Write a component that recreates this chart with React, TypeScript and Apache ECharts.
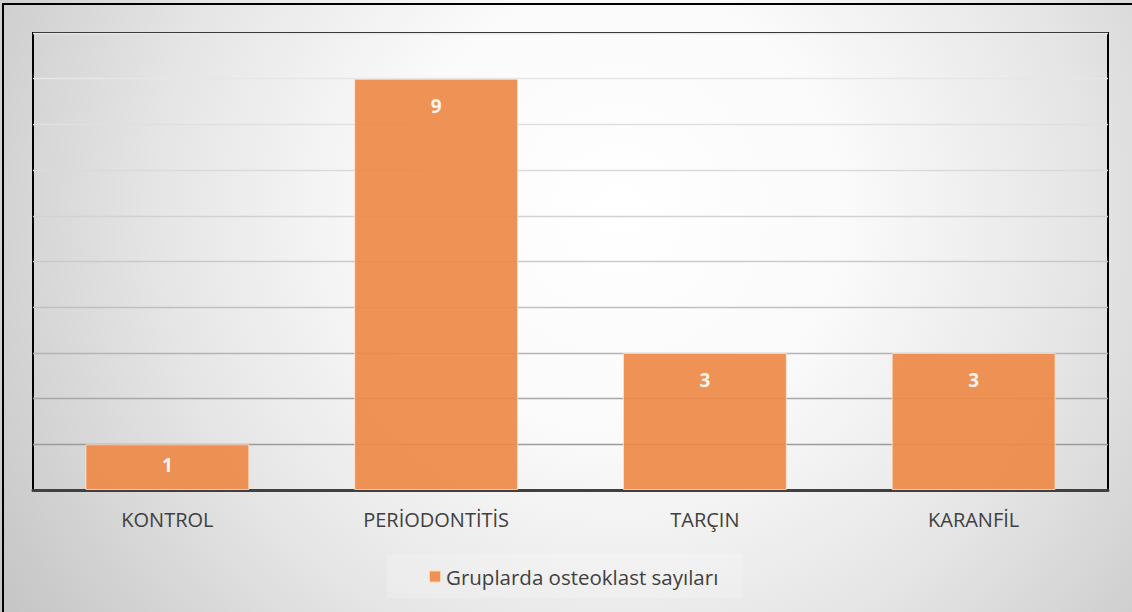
import React, { useEffect, useRef } from "react";
import * as echarts from "echarts";

const categories = ["KONTROL", "PERİODONTİTİS", "TARÇIN", "KARANFİL"];
const values = [1, 9, 3, 3];
const seriesName = "Gruplarda osteoklast sayıları";
const yMin = 0;
const yMax = 10;
const yInterval = 1;
// split line colours from value 0 (bottom) to value 10 (top)
const gridColors = ["#909090", "#9c9c9c", "#a8a8a8", "#b4b4b4", "#c0c0c0", "#cacaca", "#d2d2d2", "#dadada", "#e0e0e0", "#e6e6e6", "#e8e8e8"];

export default function App() {
  const ref = useRef<HTMLDivElement>(null);
  useEffect(() => {
    if (!ref.current) return;
    const chart = echarts.init(ref.current, undefined, { renderer: "svg" });
    const font = "'Open Sans', 'Noto Sans', sans-serif";
    chart.setOption({
      animation: false,
      backgroundColor: {
        type: "radial",
        x: 620,
        y: 210,
        r: 760,
        global: true,
        colorStops: [
          { offset: 0, color: "#ffffff" },
          { offset: 0.3, color: "#fafafa" },
          { offset: 0.6, color: "#e6e6e6" },
          { offset: 1, color: "#c2c2c2" },
        ],
      },
      graphic: [
        {
          type: "rect",
          shape: { x: 3, y: 4, width: 1160, height: 640 },
          style: { fill: "none", stroke: "#000000", lineWidth: 2 },
          silent: true,
          z: 100,
        },
      ],
      grid: {
        left: 33,
        right: 24,
        top: 33,
        bottom: 122,
        show: true,
        borderColor: "#000000",
        borderWidth: 2,
        backgroundColor: "transparent",
      },
      legend: {
        show: true,
        bottom: 14,
        left: 387,
        icon: "rect",
        itemWidth: 12,
        itemHeight: 12,
        itemGap: 10,
        padding: [12, 24, 11, 41],
        backgroundColor: "rgba(255,255,255,0.18)",
        textStyle: { fontFamily: font, fontSize: 20.5, color: "#404040" },
        data: [seriesName],
      },
      xAxis: {
        type: "category",
        data: categories,
        axisLine: { show: true, lineStyle: { color: "#404040", width: 3 } },
        axisTick: { show: false },
        axisLabel: { fontFamily: font, fontSize: 20, color: "#404040", margin: 19 },
      },
      yAxis: {
        type: "value",
        min: yMin,
        max: yMax,
        interval: yInterval,
        axisLabel: { show: false },
        axisLine: { show: false },
        axisTick: { show: false },
        splitLine: { show: true, lineStyle: { color: gridColors, width: 1.3 } },
      },
      series: [
        {
          name: seriesName,
          type: "bar",
          barWidth: "61%",
          data: values.map((v) =>
            v < 2 ? { value: v, label: { distance: 11 } } : { value: v }
          ),
          itemStyle: {
            color: "#ED8B48",
            opacity: 0.93,
            borderColor: "rgba(255,235,220,0.8)",
            borderWidth: 1,
          },
          label: {
            show: true,
            position: "insideTop",
            distance: 18,
            fontFamily: font,
            fontSize: 19,
            fontWeight: "bold",
            color: "#ffffff",
          },
        },
      ],
    });
    return () => chart.dispose();
  }, []);
  return (
    <div
      ref={ref}
      style={{ position: "absolute", left: 0, top: 0, width: 1132, height: 612 }}
    />
  );
}
